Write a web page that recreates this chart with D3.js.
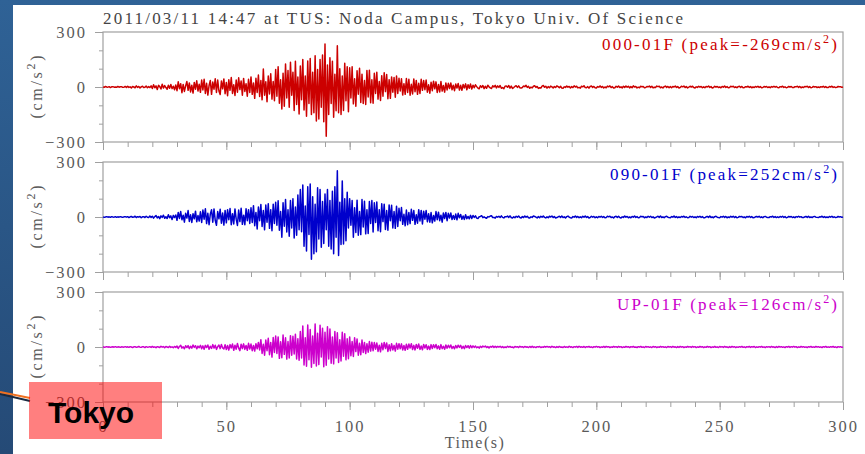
<!DOCTYPE html>
<html lang="en">
<head>
<meta charset="UTF-8" />
<title>2011/03/11 14:47 TUS Noda Campus</title>
<style>
  html, body { margin: 0; padding: 0; background: #2b5889; }
  svg { display: block; }
</style>
<script src="https://d3js.org/d3.v7.min.js"></script>
</head>
<body>
<div class="chart"></div>
<script>
// acceleration records, one value every 0.5 s (cm/s^2)
var dt = 0.5
var acc000 = [
  1,-2,3,0,-1,2,-3,1,2,-1,0,-2,3,-1,1,2,-2,-1,3,-2,
  4,-2,1,-5,3,0,-4,6,-2,3,-5,1,4,-3,-1,5,-4,2,-3,6,
  -8,12,-4,6,-14,9,2,-11,15,-6,8,-3,-12,10,-7,14,-9,4,-15,11,
  -20,28,-9,18,-31,14,-24,6,30,-18,22,-27,10,-33,25,-12,34,-22,15,-29,
  38,-16,42,-35,20,-44,8,36,-40,27,-12,45,-30,38,-22,-41,33,-10,44,-37,
  25,-48,40,-18,52,-35,12,-46,38,-28,50,-14,33,-45,47,-24,18,-50,42,-30,
  55,-40,22,-62,48,-30,65,-52,35,-70,98,-45,28,-80,60,-38,72,-66,30,-75,
  95,-50,110,-88,40,-120,75,-105,125,-60,90,-110,135,-45,80,-128,140,-95,55,-147,
  115,-70,150,-125,60,-160,142,-90,155,-150,80,-140,170,-185,95,-175,150,-110,175,-190,
  235,-269,120,-150,160,-90,140,-165,70,-130,225,-140,100,-150,60,-128,130,-75,110,-135,
  105,-60,110,-92,45,-105,88,-40,102,-85,70,-90,35,-95,90,-55,92,-86,40,-88,
  75,-35,80,-66,30,-74,62,-50,78,-25,68,-64,40,-62,55,-28,52,-56,60,-35,
  48,-22,45,-44,18,-40,46,-30,42,-45,15,-38,44,-26,36,-40,20,-35,42,-18,
  35,-15,38,-28,12,-34,26,-20,32,-10,28,-30,14,-27,30,-22,8,-28,22,-16,
  20,-8,22,-15,10,-20,16,-6,19,-17,9,-18,14,-5,17,-15,12,-7,16,-11,
  10,-4,12,2,-6,-10,7,-2,8,-9,4,-7,10,1,-5,-8,7,0,9,-5,
  6,-2,8,-7,-3,-9,4,6,-1,8,-6,5,-8,-3,3,7,-2,6,-4,-6,
  -3,5,2,9,-2,4,-7,-1,-5,4,7,-2,3,-8,-4,-6,5,8,-1,4,
  -6,2,-4,5,1,-5,3,-3,6,2,-4,4,-6,-7,1,-2,5,-1,3,-5,
  2,-3,6,0,4,-5,-2,-6,4,1,7,-3,-4,2,-6,3,5,-2,3,-4,
  -5,2,-1,6,-2,3,-5,0,-4,5,1,6,-3,2,-6,-4,4,-1,5,-3,
  1,-5,4,-2,5,-1,4,-5,2,-4,6,0,3,-5,-1,-4,4,1,3,-4,
  -3,3,1,5,-2,4,-5,-1,-3,5,2,4,-4,0,-5,2,5,-2,3,-4,
  2,-4,3,0,5,-2,2,-5,-3,4,1,5,-3,2,-5,-1,4,0,4,-3,
  -5,1,-2,4,-1,3,-4,1,-4,3,0,5,-2,2,-5,-3,4,-1,3,-3,
  0,-4,3,-1,5,-2,2,-4,-3,4,1,4,-3,1,-4,2,4,-2,3,-4,
  -3,2,0,4,-2,2,-4,0,-3,3,-1,4,-2,2,-4,-3,3,0,3,-3,
  1,-4,2,-1,4,-1,3,-3,-4,2,0,4,-2,1,-4,-2,3,-1,3,-3,
  -3,2,1,4,-2,3,-4,0,-3,3,1,4,-3,2,-4,-2,3,0,2,-3,
  0,-3,2,-1,4,-2,2,-3,-3,3,0,4,-2,1,-3,-2,3,1,2,-2,
  0
]
var acc090 = [
  1,-2,0,2,-1,1,-2,2,0,-1,2,-2,1,-1,2,0,-2,1,2,-1,
  2,-3,1,3,-2,0,4,-3,2,-1,3,-4,1,2,-3,4,-1,-3,5,-2,
  4,-6,2,8,-5,3,-9,6,-2,10,-7,1,-8,12,-4,6,-14,9,-3,11,
  -18,25,-8,30,-15,10,-28,20,-6,35,-24,12,-30,18,-10,32,-26,8,-22,28,
  -30,38,-12,45,-36,20,-42,15,40,-28,44,-18,-45,30,-10,42,-34,22,-44,36,
  -32,40,-15,46,-42,18,-38,44,-12,-46,38,-25,48,-40,10,-42,45,-20,40,-35,
  50,-30,62,-48,25,-65,55,-20,68,-52,35,-70,65,-28,72,-62,40,-75,70,-35,
  80,-45,88,-72,30,-110,78,-50,95,-82,40,-105,90,-60,100,-115,55,-100,120,-70,
  150,-80,175,-160,60,-185,165,-95,180,-230,110,-200,70,-190,160,-120,150,-165,85,-145,
  125,-70,150,-160,90,-175,140,-200,165,-110,252,-210,80,-150,197,-147,100,-130,135,-60,
  100,-45,90,-110,50,-85,92,-100,30,-96,95,-55,86,-92,40,-90,84,-35,90,-82,
  78,-30,82,-75,40,-80,72,-25,70,-68,35,-72,66,-20,64,-60,30,-62,58,-52,
  48,-20,52,-40,15,-48,38,-42,25,-36,42,-18,35,-40,12,-34,40,-22,36,-38,
  32,-12,35,-26,18,-28,24,-32,8,-22,30,-15,26,-20,10,-28,22,-8,25,-20,
  20,-6,22,-14,8,-12,16,-15,20,-4,14,-12,6,-13,12,-9,3,-10,9,-8,
  8,-2,6,-6,-8,1,3,7,-4,1,-4,-7,2,0,5,7,-3,-2,-6,3,
  -1,4,-3,6,-2,-5,2,1,5,-2,6,-3,-6,1,-4,4,-1,5,-3,-5,
  2,-3,5,-1,4,-4,-5,1,-2,5,3,-1,-5,2,-4,4,-1,5,-2,-5,
  1,-4,4,0,5,-3,2,-5,-3,1,4,-2,5,-3,1,-5,2,5,-1,-4,
  -5,2,-1,5,-2,3,-4,1,-4,4,-1,5,-2,2,-5,-3,4,-1,3,-4,
  1,-4,3,-1,4,-2,2,-4,-3,4,1,4,-3,0,-5,2,4,-2,4,-3,
  -5,1,-2,5,-1,3,-4,0,-4,3,-1,5,-2,2,-4,-3,4,1,3,-4,
  0,-3,4,-1,4,-3,1,-5,-3,1,4,-2,5,-3,1,-4,2,4,-1,-3,
  -4,2,-1,5,-2,2,-4,1,-3,3,0,4,-2,1,-4,-3,4,-1,3,-3,
  1,-4,3,-1,4,-2,2,-4,-4,1,3,-2,5,-3,0,-4,2,4,-1,-3,
  -4,2,-1,4,-2,3,-4,0,-3,4,-1,4,-3,2,-4,-2,3,1,3,-3,
  0,-4,3,-1,4,-2,2,-4,-3,1,3,-1,4,-3,1,-4,2,3,-1,-3,
  -3,2,0,4,-2,2,-3,1,-3,3,-1,4,-2,2,-4,-2,3,0,3,-3,
  1,-4,2,-1,4,-1,2,-3,-3,1,3,-2,4,-3,0,-3,2,3,-1,-2,
  -3,1,0,4,-2,2,-3,0,-3,3,-1,4,-2,1,-3,-2,3,0,2,-2,
  0
]
var accUP = [
  1,-1,0,2,-1,1,-2,0,1,-1,2,-1,0,1,-2,1,0,-1,2,-1,
  1,-2,2,0,-3,1,2,-2,0,3,-1,-2,2,1,-3,2,-1,0,2,-2,
  3,-2,1,-4,2,0,-3,4,-1,2,-4,3,0,-3,4,-2,1,-4,3,-2,
  5,-8,3,9,-6,1,-10,7,-3,8,-9,4,-6,11,-2,7,-10,5,-4,9,
  -10,6,-12,9,-3,11,-12,4,-8,13,-6,10,-13,2,11,-9,14,-5,-11,12,
  -14,8,-17,13,-5,16,-18,10,-12,19,-6,-20,15,-9,17,-13,8,-18,20,-11,
  16,-20,8,-22,18,-10,25,-16,40,-35,15,-45,38,-20,48,-42,25,-55,52,-30,
  60,-35,55,-62,28,-58,65,-40,50,-66,30,-60,62,-45,58,-38,70,-65,45,-72,
  85,-60,115,-98,50,-105,120,-70,95,-110,60,-90,126,-104,75,-96,118,-55,102,-108,
  80,-100,110,-65,98,-88,55,-92,85,-60,78,-84,40,-76,80,-50,72,-70,45,-64,
  55,-48,30,-52,50,-25,44,-45,20,-42,38,-30,25,-36,18,-28,30,-22,26,-20,
  24,-12,22,-24,10,-26,20,-15,25,-8,22,-24,12,-20,18,-16,9,-22,20,-12,
  18,-10,17,-16,8,-18,15,-12,16,-6,18,-14,9,-16,14,-7,16,-13,6,-15,
  14,-6,12,-13,5,-14,13,-8,12,-4,14,-10,6,-12,13,-9,4,-12,11,-6,
  10,-4,11,-8,3,-10,8,-5,10,-2,9,-8,4,-9,8,-3,7,-6,8,-4,
  6,-2,5,-4,1,-6,4,-3,5,0,5,-3,2,-5,3,-1,5,-3,4,-2,
  3,-1,4,-3,2,-4,1,-3,4,-1,3,-2,0,-4,3,-1,2,-3,4,-1,
  2,-3,3,-1,1,-3,3,-2,4,-2,1,-3,2,0,3,-3,1,-2,3,-1,
  3,-1,2,-3,4,-1,1,-3,2,-2,3,-1,0,-3,3,-2,1,-2,4,-1,
  1,-3,2,-1,3,-2,4,-1,1,-2,3,-3,2,0,3,-2,1,-3,2,-1,
  3,-1,2,-3,1,-2,3,-2,3,0,2,-3,1,-2,3,-1,2,-2,3,-1,
  2,-3,1,-2,3,-1,2,-3,2,-1,3,-2,0,-3,2,-1,3,-2,1,-3,
  3,-1,2,-2,1,-3,3,-1,2,-3,1,-2,3,-1,2,-2,1,-3,3,-1,
  2,-2,3,-1,1,-3,2,-2,3,-1,2,-3,1,-2,3,-1,2,-2,3,-1,
  2,-3,1,-2,3,-1,2,-3,1,-2,3,-1,2,-3,1,-2,3,-2,1,-3,
  3,-1,2,-2,3,-1,1,-3,2,-2,3,-1,2,-3,1,-2,2,-1,3,-2,
  1,-3,2,-1,3,-2,2,-1,3,-3,1,-2,2,-1,3,-2,1,-3,2,-1,
  2,-2,3,-1,1,-3,2,-2,3,-1,2,-2,1,-3,2,-1,3,-2,2,-1,
  3,-1,2,-3,1,-2,3,-1,2,-2,1,-3,2,-1,3,-2,1,-2,3,-1,
  2,-2,1,-3,2,-1,3,-2,1,-2,2,-1,3,-2,1,-3,2,-1,2,-2,
  0
]
var channels = ['000-01F', '090-01F', 'UP-01F']
var peaks = ['-269', '252', '126']
var lineColors = ['#cc0000', '#0000cc', '#cc00cc']
var xMajor = [0, 50, 100, 150, 200, 250, 300]
var yMajor = [-300, 0, 300]

var width = 865
var height = 454
var serif = '"Liberation Serif", "Times New Roman", serif'
var textGray = '#5a5a5a'
var axisGray = '#a0a0a0'

var svg = d3.select('.chart').append('svg').attr('width', width).attr('height', height)

// slide background
var grad = svg.append('defs').append('linearGradient').attr('id', 'bg').attr('x1', 0).attr('y1', 0).attr('x2', 0).attr('y2', 1)
grad.append('stop').attr('offset', 0).attr('stop-color', '#2f6296')
grad.append('stop').attr('offset', 1).attr('stop-color', '#254a76')
svg.append('rect').attr('width', width).attr('height', height).attr('fill', 'url(#bg)')
svg.append('rect').attr('x', 13).attr('y', 5).attr('width', width - 13).attr('height', height - 5).attr('fill', '#fff')

var x = d3.scaleLinear().domain([0, 300]).range([103, 843])
var panelTop = [32, 162, 292]
var panelH = 110
var labelWidth = [235, 227, 220]

svg.append('text')
  .attr('x', 103).attr('y', 24)
  .attr('textLength', 580).attr('lengthAdjust', 'spacing')
  .style('font-family', serif).style('font-size', '17px').attr('fill', '#444')
  .text('2011/03/11 14:47 at TUS: Noda Campus, Tokyo Univ. Of Science')

var records = [acc000, acc090, accUP]

records.forEach(function (data, i) {
  var y = d3.scaleLinear().domain([-300, 300]).range([panelTop[i] + panelH, panelTop[i]])
  var g = svg.append('g').attr('class', 'panel panel-' + i)

  // minor ticks
  g.append('g').attr('transform', 'translate(' + x(0) + ',0)')
    .call(d3.axisLeft(y).tickValues(d3.range(-300, 301, 100)).tickSize(4).tickSizeOuter(0).tickFormat(''))
  g.append('g').attr('transform', 'translate(0,' + y(-300) + ')')
    .call(d3.axisBottom(x).tickValues(d3.range(0, 301, 10)).tickSize(5).tickSizeOuter(0).tickFormat(''))

  // major ticks
  g.append('g').attr('transform', 'translate(' + x(0) + ',0)')
    .call(d3.axisLeft(y).tickValues(yMajor).tickSize(8).tickPadding(8).tickSizeOuter(0))
  g.append('g').attr('transform', 'translate(0,' + y(-300) + ')')
    .call(d3.axisBottom(x).tickValues(xMajor).tickSize(8).tickPadding(10).tickSizeOuter(0)
      .tickFormat(i === 2 ? d3.format('d') : ''))

  g.selectAll('.domain').remove()
  g.selectAll('.tick line').attr('stroke', axisGray)
  g.selectAll('.tick text')
    .style('font-family', serif).style('font-size', '16.5px').style('letter-spacing', '2px')
    .attr('fill', textGray)

  // frame
  g.append('rect')
    .attr('x', x(0)).attr('y', y(300))
    .attr('width', x(300) - x(0)).attr('height', y(-300) - y(300))
    .attr('fill', 'none').attr('stroke', axisGray).attr('stroke-width', 1.2)

  // trace
  var line = d3.line()
    .x(function (d, k) { return x(k * dt) })
    .y(function (d) { return y(d) })
  g.append('path')
    .datum(data)
    .attr('fill', 'none')
    .attr('stroke', lineColors[i])
    .attr('stroke-width', 1.5)
    .attr('stroke-linejoin', 'round')
    .attr('d', line)

  // channel label
  var lab = g.append('text')
    .attr('x', 837).attr('y', panelTop[i] + 18)
    .attr('text-anchor', 'end')
    .attr('textLength', labelWidth[i]).attr('lengthAdjust', 'spacing')
    .style('font-family', serif).style('font-size', '17px')
    .attr('fill', lineColors[i])
  lab.append('tspan').text(channels[i] + ' (peak=' + peaks[i] + 'cm/s')
  lab.append('tspan').attr('dy', -7).style('font-size', '12px').text('2')
  lab.append('tspan').attr('dy', 7).text(')')

  // y label
  var yl = g.append('text')
    .attr('transform', 'translate(42,' + y(0) + ') rotate(-90)')
    .attr('text-anchor', 'middle')
    .attr('textLength', 63).attr('lengthAdjust', 'spacing')
    .style('font-family', serif).style('font-size', '16px')
    .attr('fill', textGray)
  yl.append('tspan').text('(cm/s')
  yl.append('tspan').attr('dy', -7).style('font-size', '12px').text('2')
  yl.append('tspan').attr('dy', 7).text(')')
})

svg.append('text')
  .attr('x', 475).attr('y', 448)
  .attr('text-anchor', 'middle')
  .style('font-family', serif).style('font-size', '16px').style('letter-spacing', '1.5px')
  .attr('fill', textGray)
  .text('Time(s)')

// callout
svg.append('line').attr('x1', 0).attr('y1', 394).attr('x2', 30).attr('y2', 401)
  .attr('stroke', '#1a2a40').attr('stroke-width', 2)
svg.append('line').attr('x1', 0).attr('y1', 392).attr('x2', 30).attr('y2', 398)
  .attr('stroke', '#f07020').attr('stroke-width', 2)
svg.append('rect').attr('x', 29).attr('y', 382).attr('width', 133).attr('height', 57)
  .attr('fill', 'rgba(255,0,0,0.5)')
svg.append('text').attr('x', 48).attr('y', 423)
  .style('font-family', '"Liberation Sans", Arial, sans-serif').style('font-size', '30px').style('font-weight', 'bold')
  .attr('fill', '#000')
  .text('Tokyo')
</script>
</body>
</html>
